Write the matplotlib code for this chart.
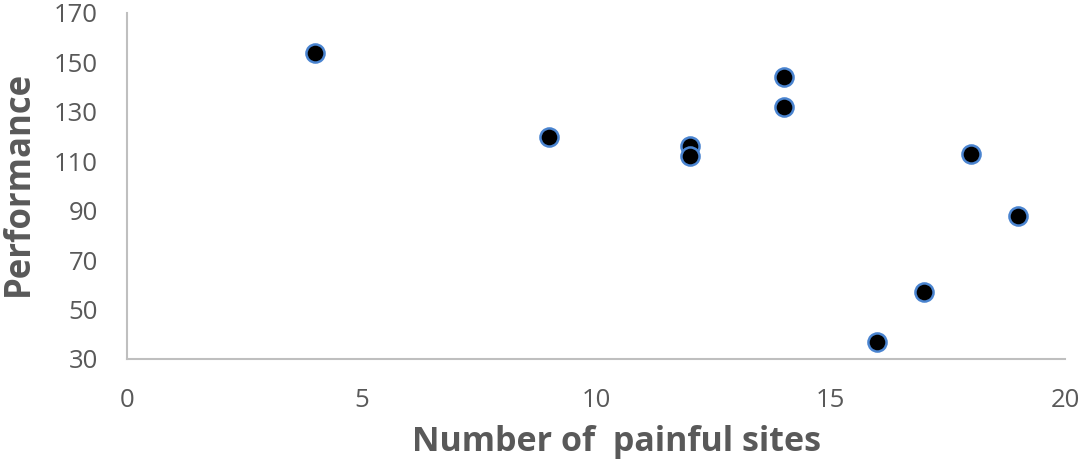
import matplotlib
matplotlib.use("Agg")
import matplotlib.pyplot as plt

plt.rcParams['font.family'] = ['Open Sans', 'DejaVu Sans']

painful_sites = [4, 9, 12, 12, 14, 14, 18, 19, 17, 16]
performance = [154, 120, 116, 112, 144, 132, 113, 88, 57, 37]
x_ticks = [0, 5, 10, 15, 20]
y_ticks = [30, 50, 70, 90, 110, 130, 150, 170]

fig = plt.figure(figsize=(10.84, 4.67), dpi=100)
ax = fig.add_axes([127/1084, 1-359/467, (1065-127)/1084, (359-13)/467])

ax.scatter(painful_sites, performance, s=170, facecolor='black',
           edgecolor='#4A84D0', linewidth=1.8, zorder=3, clip_on=False)

ax.set_xlim(0, 20)
ax.set_ylim(30, 170)
ax.set_xticks(x_ticks)
ax.set_yticks(y_ticks)

for s in ['top', 'right']:
    ax.spines[s].set_visible(False)
for s in ['left', 'bottom']:
    ax.spines[s].set_color('#BFBFBF')
    ax.spines[s].set_linewidth(1.5)

ax.tick_params(axis='both', length=0, labelsize=18.5, labelcolor='#595959')
ax.tick_params(axis='y', pad=21)
ax.tick_params(axis='x', pad=21)

ax.set_xlabel('Number of  painful sites', fontsize=24.5, fontweight='bold',
              color='#595959', va='center')
ax.set_ylabel('Performance', fontsize=25, fontweight='bold',
              color='#595959', va='center')
ax.xaxis.set_label_coords((616 - 127) / 938, (359 - 442) / 346)
ax.yaxis.set_label_coords((19 - 127) / 938, (359 - 183) / 346)

fig.savefig('out.png', dpi=100)
